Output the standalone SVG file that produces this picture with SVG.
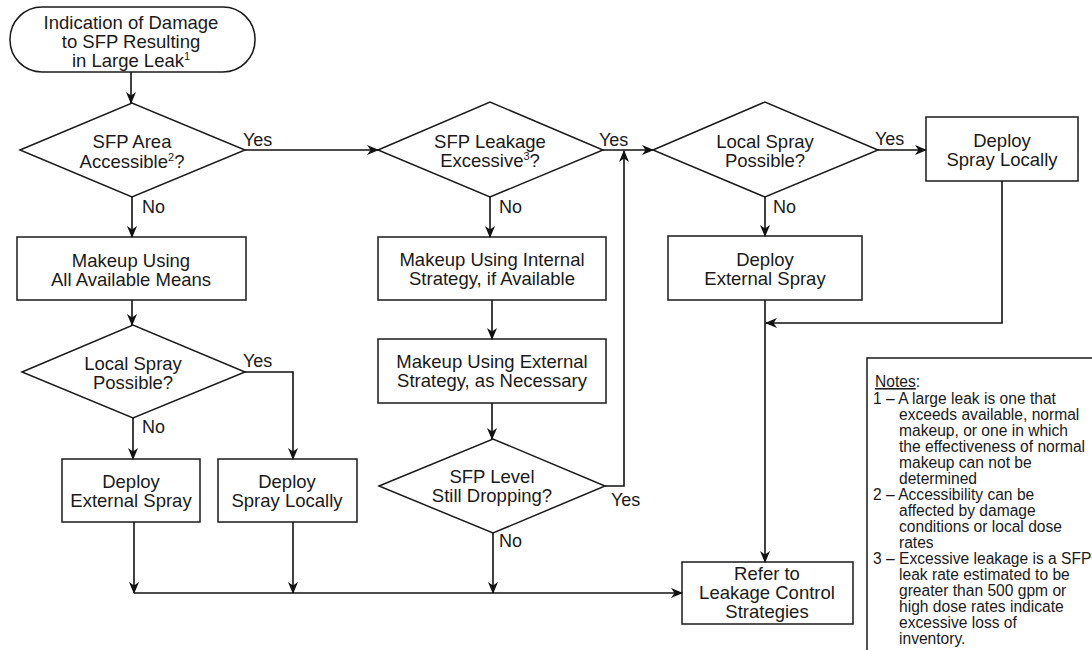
<svg xmlns="http://www.w3.org/2000/svg" width="1092" height="650" viewBox="0 0 1092 650">
<defs>
<marker id="ah" viewBox="0 0 12 10" markerWidth="12" markerHeight="10" refX="11" refY="5" orient="auto" markerUnits="userSpaceOnUse">
<path d="M0,0 L12,5 L0,10 L3.5,5 Z" fill="#111"/>
</marker>
<style>
.shape{fill:#fff;stroke:#1a1a1a;stroke-width:1.5}
.t{font-family:"Liberation Sans",Arial,sans-serif;font-size:18.5px;fill:#1a1a1a;text-anchor:middle}
.lbl{font-family:"Liberation Sans",Arial,sans-serif;font-size:18px;fill:#1a1a1a}
.n{font-family:"Liberation Sans",Arial,sans-serif;font-size:15.6px;fill:#1a1a1a}
.c{fill:none;stroke:#111;stroke-width:1.6}
.a{marker-end:url(#ah)}
</style>
</defs>
<rect width="1092" height="650" fill="#fff"/>

<g id="start">
<rect class="shape" x="10" y="7" width="245" height="65" rx="32" ry="32"/>
<text class="t" x="131" y="29">Indication of Damage</text>
<text class="t" x="131" y="48">to SFP Resulting</text>
<text class="t" x="131" y="67">in Large Leak<tspan dy="-7" font-size="11">1</tspan></text>
</g>

<g id="d-area">
<polygon class="shape" points="20,150 132,103 245,150 132,197"/>
<text class="t" x="132" y="148">SFP Area</text>
<text class="t" x="132" y="168">Accessible<tspan dy="-7" font-size="11">2</tspan><tspan dy="7">?</tspan></text>
</g>

<g id="b-makeup-all">
<rect class="shape" x="17" y="237" width="229" height="63"/>
<text class="t" x="131" y="267">Makeup Using</text>
<text class="t" x="131" y="286">All Available Means</text>
</g>

<g id="d-local-left">
<polygon class="shape" points="22,372 133,325 245,372 133,418"/>
<text class="t" x="133" y="370">Local Spray</text>
<text class="t" x="133" y="389">Possible?</text>
</g>

<g id="b-ext-left">
<rect class="shape" x="62" y="459" width="138" height="63"/>
<text class="t" x="131" y="488">Deploy</text>
<text class="t" x="131" y="507">External Spray</text>
</g>

<g id="b-loc-left">
<rect class="shape" x="218" y="459" width="139" height="63"/>
<text class="t" x="287" y="488">Deploy</text>
<text class="t" x="287" y="507">Spray Locally</text>
</g>

<g id="d-leakage">
<polygon class="shape" points="378,150 490,102 603,150 490,197"/>
<text class="t" x="490" y="148">SFP Leakage</text>
<text class="t" x="490" y="167">Excessive<tspan dy="-7" font-size="11">3</tspan><tspan dy="7">?</tspan></text>
</g>

<g id="b-internal">
<rect class="shape" x="378" y="237" width="228" height="63"/>
<text class="t" x="492" y="266">Makeup Using Internal</text>
<text class="t" x="492" y="285">Strategy, if Available</text>
</g>

<g id="b-external">
<rect class="shape" x="378" y="339" width="228" height="64"/>
<text class="t" x="492" y="368">Makeup Using External</text>
<text class="t" x="492" y="387">Strategy, as Necessary</text>
</g>

<g id="d-level">
<polygon class="shape" points="379,486 493,439 605,486 493,533"/>
<text class="t" x="492" y="483">SFP Level</text>
<text class="t" x="492" y="502">Still Dropping?</text>
</g>

<g id="d-local-right">
<polygon class="shape" points="653,150 765,102 878,150 765,197"/>
<text class="t" x="765" y="148">Local Spray</text>
<text class="t" x="765" y="167">Possible?</text>
</g>

<g id="b-loc-right">
<rect class="shape" x="926" y="117" width="152" height="64"/>
<text class="t" x="1002" y="147">Deploy</text>
<text class="t" x="1002" y="166">Spray Locally</text>
</g>

<g id="b-ext-right">
<rect class="shape" x="668" y="236" width="194" height="64"/>
<text class="t" x="765" y="266">Deploy</text>
<text class="t" x="765" y="285">External Spray</text>
</g>

<g id="b-refer">
<rect class="shape" x="682" y="562" width="171" height="62"/>
<text class="t" x="767" y="580">Refer to</text>
<text class="t" x="767" y="599">Leakage Control</text>
<text class="t" x="767" y="618">Strategies</text>
</g>

<g id="connectors">
<path class="c a" d="M131,72 V103"/>
<path class="c a" d="M245,150 H378"/>
<path class="c a" d="M132,197 V237"/>
<path class="c a" d="M132,300 V325"/>
<path class="c a" d="M245,372 H293 V459"/>
<path class="c a" d="M133,418 V459"/>
<path class="c a" d="M134,522 V593"/>
<path class="c a" d="M293,522 V593"/>
<path class="c a" d="M134,593 H682"/>
<path class="c a" d="M490,197 V237"/>
<path class="c a" d="M492,300 V339"/>
<path class="c a" d="M492,403 V439"/>
<path class="c a" d="M493,533 V593"/>
<path class="c a" d="M605,486 H624 V151"/>
<path class="c a" d="M603,150 H653"/>
<path class="c a" d="M878,150 H926"/>
<path class="c a" d="M765,197 V236"/>
<path class="c a" d="M765,300 V562"/>
<path class="c a" d="M1002,181 V323 H766"/>
<text class="lbl" x="243" y="146">Yes</text>
<text class="lbl" x="142" y="213">No</text>
<text class="lbl" x="243" y="367">Yes</text>
<text class="lbl" x="142" y="433">No</text>
<text class="lbl" x="499" y="213">No</text>
<text class="lbl" x="599" y="146">Yes</text>
<text class="lbl" x="611" y="506">Yes</text>
<text class="lbl" x="499" y="547">No</text>
<text class="lbl" x="875" y="145">Yes</text>
<text class="lbl" x="773" y="213">No</text>
</g>

<g id="notes">
<rect x="867" y="358" width="300" height="400" fill="#fff" stroke="#1a1a1a" stroke-width="1.5"/>
<text class="n" x="875" y="387"><tspan text-decoration="underline">Notes</tspan>:</text>
<text class="n" x="873" y="404">1 – A large leak is one that</text>
<text class="n" x="899" y="420">exceeds available, normal</text>
<text class="n" x="899" y="436">makeup, or one in which</text>
<text class="n" x="899" y="452">the effectiveness of normal</text>
<text class="n" x="899" y="468">makeup can not be</text>
<text class="n" x="899" y="484">determined</text>
<text class="n" x="873" y="500">2 – Accessibility can be</text>
<text class="n" x="899" y="516">affected by damage</text>
<text class="n" x="899" y="532">conditions or local dose</text>
<text class="n" x="899" y="548">rates</text>
<text class="n" x="873" y="564">3 – Excessive leakage is a SFP</text>
<text class="n" x="899" y="580">leak rate estimated to be</text>
<text class="n" x="899" y="596">greater than 500 gpm or</text>
<text class="n" x="899" y="612">high dose rates indicate</text>
<text class="n" x="899" y="628">excessive loss of</text>
<text class="n" x="899" y="644">inventory.</text>
</g>
</svg>
